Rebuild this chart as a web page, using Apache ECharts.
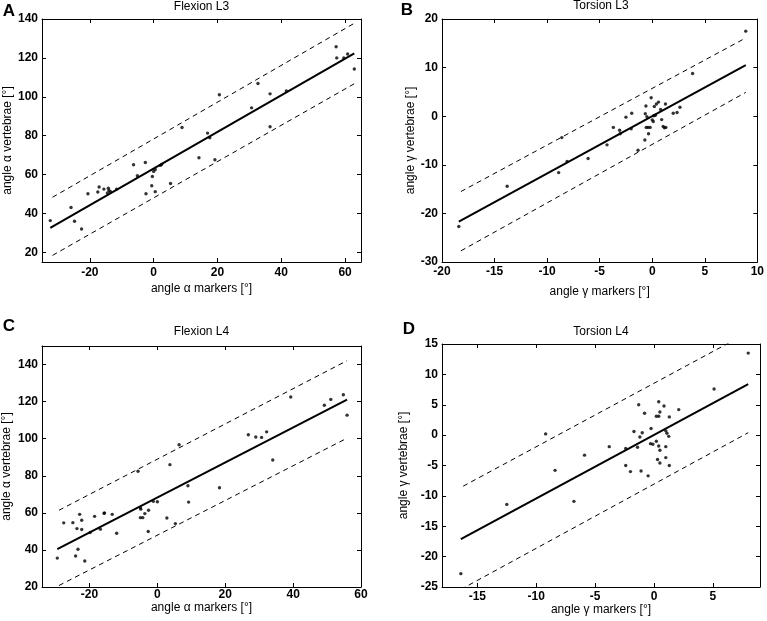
<!DOCTYPE html>
<html><head><meta charset="utf-8">
<script src="https://cdn.jsdelivr.net/npm/echarts@6/dist/echarts.min.js"></script>
<style>html,body{margin:0;padding:0;background:#fff}#c{width:767px;height:621px}</style>
</head><body><div id="c"></div>
<script>
// ---- Panel A: Flexion L3 ----
const flexL3X = [-32.4,-25.9,-24.8,-22.6,-20.6,-17.5,-17.1,-15.6,-14.2,-14,-14.5,-13.5,-11.6,-6.3,-5.1,-2.6,-2.4,-0.6,-0.4,0,0.5,0.5,2.1,2.5,5.3,8.9,14.2,16.9,17.6,19.2,20.6,30.7,32.7,36.5,36.5,41.6,57.2,57.4,59.6,60.8,62.9];
const flexL3Y = [36.3,43,36,32,50.1,51,53.6,52.5,53,51.8,50.5,51.2,52.5,65,59.4,66.2,50.1,54.2,59,61.6,62.6,51.2,64.7,65.2,55.4,84.2,68.6,81.3,78.9,67.6,101,94.3,106.8,101.5,84.6,103,125.7,120,120,122,114.3];
const flexL3Fit = [[-32.4,32.5],[62.9,122.3]];
const flexL3Upper = [[-31.7,48.3],[62.9,137.8]];
const flexL3Lower = [[-31.7,18.4],[62.9,106.7]];
const flexL3XTicks = [-20,0,20,40,60];
const flexL3YTicks = [20,40,60,80,100,120,140];

// ---- Panel B: Torsion L3 ----
const torsL3X = [-18.4,-13.8,-8.9,-8.6,-8.1,-6.1,-4.3,-3.7,-3.1,-3.05,-2.5,-2.0,-1.95,-1.35,-0.7,-0.6,-0.66,-0.5,-0.57,-0.4,-0.35,-0.2,-0.1,0,0.1,0.15,0.3,0.2,0.4,0.6,0.8,0.9,1.04,1.16,1.3,1.26,2,2.36,2.64,3.84,8.9];
const torsL3Y = [-22.7,-14.4,-11.6,-4.4,-9.3,-8.7,-5.9,-2.3,-2.9,-3.6,-0.2,-2.6,0.6,-7,-4.9,2.1,0.5,-0.1,-2.3,-2.3,-3.6,-2.3,3.8,-0.75,-1.1,0.1,0.2,2,2.5,2.9,1.4,-0.7,-2.1,-2.4,-2.3,2.5,0.6,0.75,1.85,8.8,17.5];
const torsL3Fit = [[-18.4,-21.7],[8.9,10.5]];
const torsL3Upper = [[-18.2,-15.5],[8.9,16.1]];
const torsL3Lower = [[-18.2,-27.7],[8.9,4.9]];
const torsL3XTicks = [-20,-15,-10,-5,0,5,10];
const torsL3YTicks = [-30,-20,-10,0,10,20];

// ---- Panel C: Flexion L4 ----
const flexL4X = [-29.5,-27.6,-24.9,-24.1,-23.7,-23.4,-22.9,-22.3,-22.3,-21.4,-19.8,-18.5,-16.8,-15.7,-15.6,-13.3,-12,-5.7,-5,-4.9,-5,-4.3,-3.7,-2.6,-2.7,-1.2,0,2.8,3.7,5.3,6.4,9,9.2,18.3,26.8,29,30.7,32.2,34,39.3,49.2,51.1,54.8,55.9];
const flexL4Y = [35.6,54.6,54.7,36.7,51.5,40.4,59.2,56,51,34,49.4,58.1,51.2,59.7,60,59.2,49,82.4,62.8,62,57.4,57.4,59.6,61.4,49.9,66.2,66,57.2,86,54.2,96.7,74.6,65.8,73.5,102.1,100.9,100.7,103.7,88.5,122.5,118,121.2,123.7,112.7];
const flexL4Fit = [[-29.5,40.4],[55.9,121.1]];
const flexL4Upper = [[-29,61.4],[55.9,142.1]];
const flexL4Lower = [[-29,20.8],[55.9,100.3]];
const flexL4XTicks = [-20,0,20,40,60];
const flexL4YTicks = [20,40,60,80,100,120,140];

// ---- Panel D: Torsion L4 ----
const torsL4X = [-16.4,-12.5,-9.2,-8.4,-6.8,-5.9,-3.8,-2.4,-2.4,-2,-1.7,-1.4,-1.3,-1.2,-1.1,-1,-0.8,-0.5,-0.25,-0.3,-0.1,0.2,0.2,0.4,0.4,0.3,0.5,0.4,0.5,0.5,0.85,1,1,1,1.1,1.25,1.3,1.3,2.1,5.1,8];
const torsL4Y = [-22.8,-11.4,0.2,-5.8,-10.9,-3.3,-1.9,-2.2,-5,-6,0.6,-2,5,-0.3,-5.9,0.4,3.6,-6.7,1.1,-1.4,-1.5,-1,3.1,5.5,3.1,-4,3.8,-1.8,-2.5,-4.6,4.8,-1.9,-3.7,0.7,0.3,-0.2,3,-5,4.2,7.6,13.5];
const torsL4Fit = [[-16.4,-17.1],[8,8.4]];
const torsL4Upper = [[-16.2,-8.4],[8,16.9]];
const torsL4Lower = [[-16.4,-25.4],[8,0.4]];
const torsL4XTicks = [-15,-10,-5,0,5];
const torsL4YTicks = [-25,-20,-15,-10,-5,0,5,10,15];

const panels = [
  {letter:'A', title:'Flexion L3', x:flexL3X, y:flexL3Y, fit:flexL3Fit, up:flexL3Upper, lo:flexL3Lower, xt:flexL3XTicks, yt:flexL3YTicks, xr:[-35,65], yr:[15,140], xname:'angle \u03b1 markers [\u00b0]', yname:'angle \u03b1 vertebrae [\u00b0]'},
  {letter:'B', title:'Torsion L3', x:torsL3X, y:torsL3Y, fit:torsL3Fit, up:torsL3Upper, lo:torsL3Lower, xt:torsL3XTicks, yt:torsL3YTicks, xr:[-20,10], yr:[-30,20], xname:'angle \u03b3 markers [\u00b0]', yname:'angle \u03b3 vertebrae [\u00b0]'},
  {letter:'C', title:'Flexion L4', x:flexL4X, y:flexL4Y, fit:flexL4Fit, up:flexL4Upper, lo:flexL4Lower, xt:flexL4XTicks, yt:flexL4YTicks, xr:[-34,60], yr:[20,150], xname:'angle \u03b1 markers [\u00b0]', yname:'angle \u03b1 vertebrae [\u00b0]'},
  {letter:'D', title:'Torsion L4', x:torsL4X, y:torsL4Y, fit:torsL4Fit, up:torsL4Upper, lo:torsL4Lower, xt:torsL4XTicks, yt:torsL4YTicks, xr:[-18,9], yr:[-25,15], xname:'angle \u03b3 markers [\u00b0]', yname:'angle \u03b3 vertebrae [\u00b0]'}
];

// layout (pixels)
const layout = [
  {left:42, top:19, width:319, height:243, lx:9, ly:11, ty:7, xm:5, xg:21, yg:28},
  {left:442, top:19, width:318, height:243, lx:407, ly:10, ty:6, xm:4, xg:24, yg:25},
  {left:42, top:346, width:319, height:241, lx:9, ly:326, ty:332, xm:2, xg:15, yg:29},
  {left:442, top:344, width:318, height:243, lx:409, ly:329, ty:332, xm:4, xg:15, yg:32}
];

const FONT = '"Liberation Sans", Arial, sans-serif';
const grids = [], xAxes = [], yAxes = [], series = [], graphics = [];

function axis(pos, gi, range, ticks, labels, margin, name, nameGap) {
  return {
    type:'value', gridIndex:gi, position:pos, min:range[0], max:range[1],
    axisLine:{show:true, onZero:false, lineStyle:{color:'#000', width:1}},
    axisTick:{show:true, inside:true, length:4, customValues:ticks, lineStyle:{color:'#000', width:1}},
    axisLabel:{show:labels, customValues:ticks, color:'#000', fontSize:12, fontWeight:'bold', fontFamily:FONT, margin:margin},
    splitLine:{show:false},
    name: name || '', nameLocation:'middle', nameGap: nameGap || 0,
    nameTextStyle:{color:'#000', fontSize:12, fontFamily:FONT}
  };
}

panels.forEach((p, i) => {
  const L = layout[i];
  grids.push({left:L.left, top:L.top, width:L.width, height:L.height, show:false});
  xAxes.push(axis('bottom', i, p.xr, p.xt, true, L.xm, p.xname, L.xg));
  xAxes.push(axis('top', i, p.xr, p.xt, false, 4));
  yAxes.push(axis('left', i, p.yr, p.yt, true, 4, p.yname, L.yg));
  yAxes.push(axis('right', i, p.yr, p.yt, false, 4));
  const xi = 2*i, yi = 2*i;
  series.push({type:'line', xAxisIndex:xi, yAxisIndex:yi, data:p.up, symbol:'none', clip:true,
    lineStyle:{color:'#000', width:1, type:[5,4]}, silent:true});
  series.push({type:'line', xAxisIndex:xi, yAxisIndex:yi, data:p.lo, symbol:'none', clip:true,
    lineStyle:{color:'#000', width:1, type:[5,4]}, silent:true});
  series.push({type:'line', xAxisIndex:xi, yAxisIndex:yi, data:p.fit, symbol:'none', clip:true,
    lineStyle:{color:'#000', width:2}, silent:true});
  series.push({type:'scatter', xAxisIndex:xi, yAxisIndex:yi, data:p.x.map((v,k)=>[v,p.y[k]]),
    symbol:'circle', symbolSize:3.4, itemStyle:{color:'#000'}, silent:true});
  graphics.push({type:'text', x:L.lx, y:L.ly, style:{text:p.letter, font:'bold 17px '+FONT, fill:'#000', align:'center', verticalAlign:'middle'}});
  graphics.push({type:'text', x:L.left + L.width/2, y:L.ty, style:{text:p.title, font:'12px '+FONT, fill:'#000', align:'center', verticalAlign:'middle'}});
});

const chart = echarts.init(document.getElementById('c'), null, {renderer:'canvas'});
chart.setOption({
  animation:false, backgroundColor:'#fff',
  grid:grids, xAxis:xAxes, yAxis:yAxes, series:series, graphic:graphics
});
</script></body></html>
